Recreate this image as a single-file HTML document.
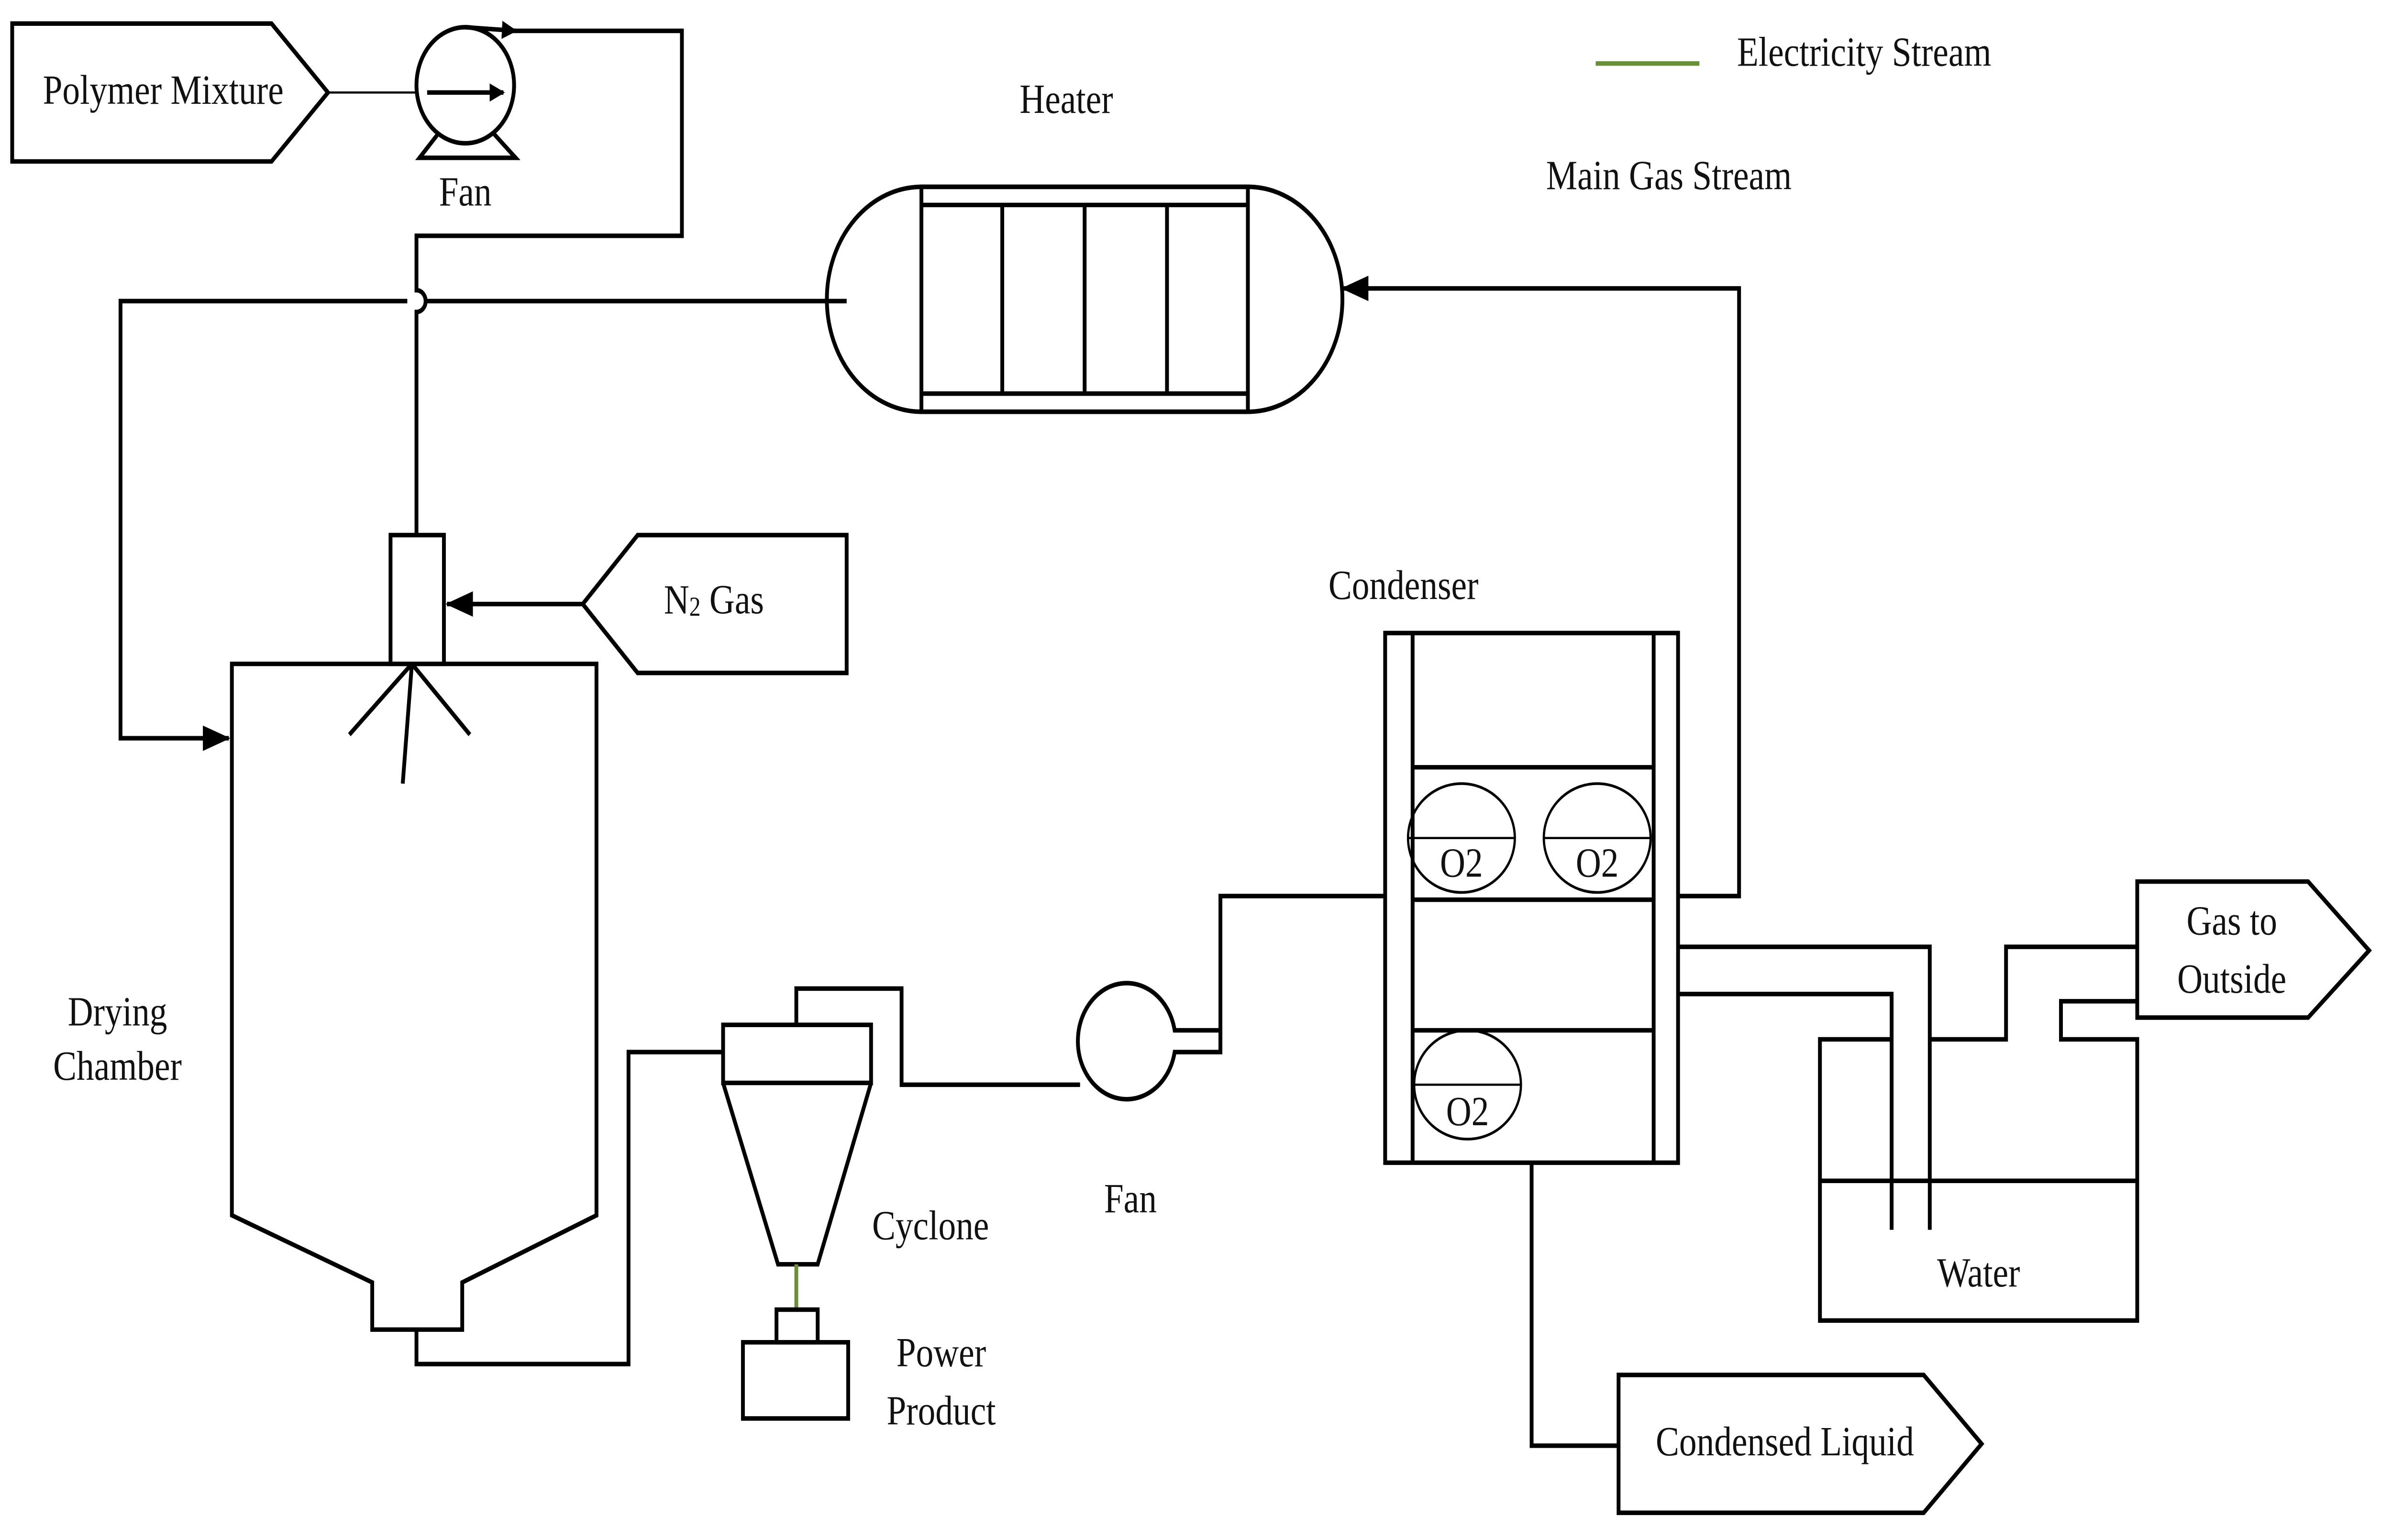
<!DOCTYPE html>
<html><head><meta charset="utf-8"><style>
html,body{margin:0;padding:0;background:#fff;width:100%;height:100%;overflow:hidden;}
svg{display:block;position:fixed;left:0;top:0;width:100vw;height:100vh;}
text{font-family:"Liberation Serif",serif;font-size:23px;fill:#111;text-anchor:middle;dominant-baseline:middle;}
</style></head><body>
<svg viewBox="0 0 1568 849" preserveAspectRatio="none" xmlns="http://www.w3.org/2000/svg">
<defs><marker id="a" markerWidth="10" markerHeight="10" refX="9" refY="5" orient="auto" markerUnits="userSpaceOnUse"><path d="M0,0 L10,5 L0,10 z" fill="#000"/></marker>
<marker id="b" markerWidth="18" markerHeight="14" refX="17" refY="7" orient="auto" markerUnits="userSpaceOnUse"><path d="M0,0 L18,7 L0,14 z" fill="#000"/></marker></defs>
<g fill="none" stroke="#000" stroke-width="2.5">
<path d="M8,13 L178,13 L215,51 L178,89 L8,89 Z"/>
<line x1="215" y1="51" x2="273" y2="51" stroke-width="1.2"/>
<circle cx="305" cy="47" r="32"/>
<line x1="280" y1="51" x2="330" y2="51" marker-end="url(#a)"/>
<path d="M287,74 L275,87 L338,87 L324,74"/>
<path d="M305,15 L338,17" marker-end="url(#a)"/>
<path d="M335,17 L447,17 L447,130 L273,130 L273,160 A6,6 0 0 1 273,172 L273,295"/>
<path d="M604,103 L818,103 A62,62 0 0 1 818,227 L604,227 A62,62 0 0 1 604,103 Z"/>
<rect x="604" y="103" width="214" height="124"/>
<line x1="604" y1="113" x2="818" y2="113"/><line x1="604" y1="217" x2="818" y2="217"/>
<line x1="657" y1="113" x2="657" y2="217"/><line x1="711" y1="113" x2="711" y2="217"/><line x1="765" y1="113" x2="765" y2="217"/>
<path d="M555,166 L279,166 M267,166 L79,166 L79,407 L150,407" marker-end="url(#b)"/>
<rect x="256" y="295" width="35" height="71"/>
<path d="M555,295 L418,295 L382,333 L418,371 L555,371 Z"/>
<line x1="382" y1="333" x2="293" y2="333" marker-end="url(#b)"/>
<path d="M152,366 L391,366 L391,670 L303,707 L303,733 L244,733 L244,707 L152,670 Z"/>
<path d="M270,366 L229,405 M270,366 L308,405 M270,366 L264,432"/>
<path d="M273,733 L273,752 L412,752 L412,580 L474,580"/>
<rect x="474" y="565" width="97" height="32"/>
<path d="M474,597 L510,697 L536,697 L571,597"/>
<path d="M522,565 L522,545 L591,545 L591,598 L708,598"/>
<line x1="522" y1="697" x2="522" y2="722" stroke="#6a8f3a"/>
<rect x="509" y="722" width="27" height="18"/>
<rect x="487" y="740" width="69" height="42"/>
<path d="M770,580 A32,32 0 1 1 770,568 L800,568 L800,580 Z"/>
<path d="M800,578 L800,494 L908,494"/>
<rect x="908" y="349" width="192" height="292"/>
<line x1="926" y1="349" x2="926" y2="641"/><line x1="1084" y1="349" x2="1084" y2="641"/>
<line x1="926" y1="423" x2="1084" y2="423"/><line x1="926" y1="496" x2="1084" y2="496"/><line x1="926" y1="568" x2="1084" y2="568"/>
<ellipse cx="958" cy="462" rx="35" ry="30" stroke-width="1.5"/><line x1="923" y1="462" x2="993" y2="462" stroke-width="1.2"/>
<ellipse cx="1047" cy="462" rx="35" ry="30" stroke-width="1.5"/><line x1="1012" y1="462" x2="1082" y2="462" stroke-width="1.2"/>
<ellipse cx="962" cy="598" rx="35" ry="30" stroke-width="1.5"/><line x1="927" y1="598" x2="997" y2="598" stroke-width="1.2"/>
<path d="M1100,494 L1140,494 L1140,159 L880,159" marker-end="url(#b)"/>
<path d="M1100,522 L1265,522 L1265,678 M1100,548 L1240,548 L1240,678"/>
<path d="M1240,573 L1193,573 L1193,728 L1401,728 L1401,573 L1351,573 L1351,552 L1401,552"/>
<path d="M1265,573 L1315,573 L1315,522 L1401,522"/>
<line x1="1193" y1="651" x2="1401" y2="651"/>
<path d="M1401,486 L1513,486 L1553,524 L1513,561 L1401,561 Z"/>
<path d="M1004,641 L1004,797 L1061,797"/>
<path d="M1061,758 L1261,758 L1299,796 L1261,834 L1061,834 Z"/>
<line x1="1046" y1="35" x2="1114" y2="35" stroke="#6a8f3a"/>
</g>
<text x="107" y="52">Polymer Mixture</text>
<text x="305" y="108">Fan</text>
<text x="699" y="57">Heater</text>
<text x="468" y="333">N<tspan font-size="15" dy="3">2</tspan><tspan dy="-3"> Gas</tspan></text>
<text x="77" y="560">Drying</text><text x="77" y="590">Chamber</text>
<text x="610" y="678">Cyclone</text>
<text x="617" y="748">Power</text><text x="617" y="780">Product</text>
<text x="741" y="663">Fan</text>
<text x="920" y="325">Condenser</text>
<text x="958" y="478" font-size="15">O2</text><text x="1047" y="478" font-size="15">O2</text><text x="962" y="615" font-size="15">O2</text>
<text x="1297" y="704">Water</text>
<text x="1463" y="510">Gas to</text><text x="1463" y="542">Outside</text>
<text x="1170" y="797">Condensed Liquid</text>
<text x="1222" y="31">Electricity Stream</text>
<text x="1094" y="99">Main Gas Stream</text>
</svg>
</body></html>
